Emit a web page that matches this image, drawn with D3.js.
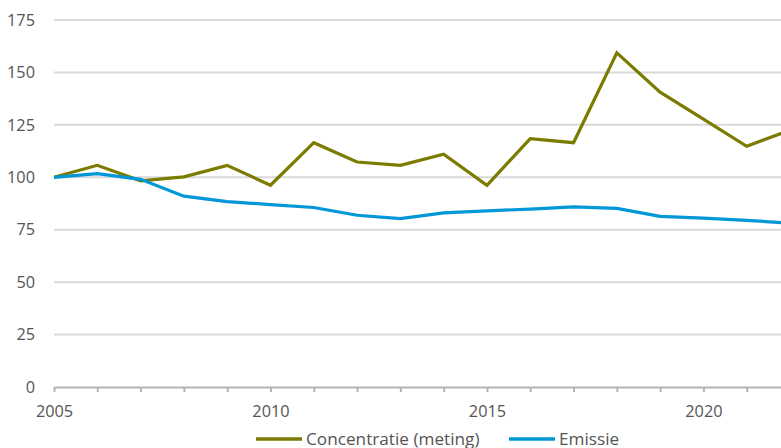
<!DOCTYPE html>
<html>
<head>
<meta charset="utf-8">
<script src="https://cdn.jsdelivr.net/npm/d3@7"></script>
<style>
  body { margin: 0; background: #fff; }
  svg text { font-family: "Open Sans", sans-serif; fill: #555; }
  .axis-y .domain, .axis-y .tick line { display: none; }
  .axis-y text, .axis-x text { font-size: 16.3px; }
  .axis-x .domain, .axis-x .tick line { stroke: #b4b4b4; stroke-width: 2; }
  .grid line { stroke: #d9d9d9; stroke-width: 2; }
  .legend text { font-size: 17.2px; }
</style>
</head>
<body>
<div id="chart"></div>
<script>
// Data (index, 2005 = 100)
const years = [2005, 2006, 2007, 2008, 2009, 2010, 2011, 2012, 2013, 2014, 2015, 2016, 2017, 2018, 2019, 2020, 2021, 2022];
const concentratie = [100, 105.7, 98.3, 100.2, 105.7, 96.2, 116.5, 107.3, 105.7, 111, 96.2, 118.4, 116.5, 159.3, 140.6, 127.7, 114.8, 122.5];
const emissie = [100, 101.7, 99, 91, 88.4, 87, 85.6, 81.9, 80.3, 83, 84, 84.8, 85.9, 85.2, 81.4, 80.5, 79.5, 78.1];
const yTicks = [0, 25, 50, 75, 100, 125, 150, 175];
const xTicks = [2005, 2010, 2015, 2020];

const seriesInfo = [
  { id: "conc", label: "Concentratie (meting)", values: concentratie, color: "#7b7b00" },
  { id: "emis", label: "Emissie", values: emissie, color: "#0097d9" }
];

const width = 781;
const height = 448;
const margin = { top: 20, right: -9, bottom: 61, left: 54 };
const innerWidth = width - margin.left - margin.right;
const innerHeight = height - margin.top - margin.bottom;

const svg = d3.select("#chart")
  .append("svg")
    .attr("width", width)
    .attr("height", height)
    .style("display", "block");

const innerChart = svg
  .append("g")
    .attr("transform", `translate(${margin.left}, ${margin.top})`);

// Scales
const xScale = d3.scaleLinear()
  .domain([2005, 2022])
  .range([0, innerWidth]);

const yScale = d3.scaleLinear()
  .domain([0, 175])
  .range([innerHeight, 0]);

// Gridlines
innerChart
  .append("g")
    .attr("class", "grid")
  .selectAll("line")
  .data(yTicks.filter(d => d > 0))
  .join("line")
    .attr("x1", 0)
    .attr("x2", innerWidth)
    .attr("y1", d => yScale(d))
    .attr("y2", d => yScale(d));

// Left axis
const leftAxis = d3.axisLeft(yScale)
  .tickValues(yTicks)
  .tickSize(0)
  .tickPadding(19);
innerChart
  .append("g")
    .attr("class", "axis-y")
    .call(leftAxis);

// Bottom axis: small tick each year, labels every 5 years
const bottomAxis = d3.axisBottom(xScale)
  .tickValues(years.filter(y => y < 2022))
  .tickSize(5)
  .tickSizeOuter(0)
  .tickPadding(13)
  .tickFormat(d => xTicks.includes(d) ? d3.format("d")(d) : "");
const axisX = innerChart
  .append("g")
    .attr("class", "axis-x")
    .attr("transform", `translate(0, ${innerHeight})`)
    .call(bottomAxis);
axisX.selectAll(".tick text")
  .filter(function () { return this.textContent === ""; })
  .remove();

// Lines
const lineGenerator = d3.line()
  .x((d, i) => xScale(years[i]))
  .y(d => yScale(d));

seriesInfo.forEach(s => {
  innerChart
    .append("path")
      .attr("d", lineGenerator(s.values))
      .attr("fill", "none")
      .attr("stroke", s.color)
      .attr("stroke-width", 3.2)
      .attr("stroke-linejoin", "miter");
});

// Legend
const legendX = [256, 509];
const legend = svg
  .append("g")
    .attr("class", "legend")
    .attr("transform", "translate(0, 439)");
seriesInfo.forEach((s, i) => {
  legend.append("line")
    .attr("x1", legendX[i])
    .attr("x2", legendX[i] + 46)
    .attr("stroke", s.color)
    .attr("stroke-width", 3.5);
  legend.append("text")
    .attr("x", legendX[i] + 50)
    .attr("dy", "0.35em")
    .text(s.label);
});
</script>
</body>
</html>
